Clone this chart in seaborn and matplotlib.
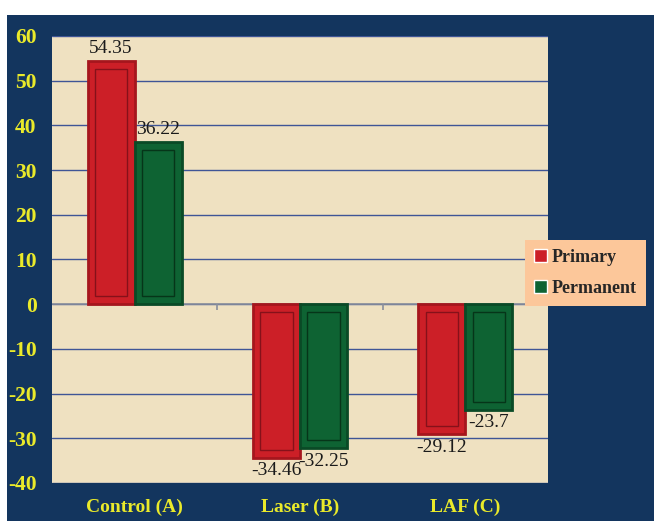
import pandas as pd
import numpy as np
import seaborn as sns
import matplotlib.pyplot as plt
from matplotlib.patches import Rectangle

groups = ['Control (A)', 'Laser (B)', 'LAF (C)']
primary = [54.35, -34.46, -29.12]
permanent = [36.22, -32.25, -23.7]
series = ['Primary', 'Permanent']
yticks = [-40, -30, -20, -10, 0, 10, 20, 30, 40, 50, 60]

navy = '#13355e'
yellow = '#eaea2a'
bar_colors = ['#cc1f27', '#0e6333']
edge_colors = ['#a5161d', '#0a4a26']
inner_colors = ['#86111a', '#063519']

df = pd.DataFrame({
    'group': groups * 2,
    'value': primary + permanent,
    'series': [series[0]] * 3 + [series[1]] * 3,
})

sns.set_style('white')
plt.rcParams['font.family'] = ['Liberation Serif', 'DejaVu Serif']
plt.rcParams['axes.unicode_minus'] = False

fig = plt.figure(figsize=(6.54, 5.21), dpi=100, facecolor='white')
fig.patches.append(Rectangle((7 / 654, 0), 1, (521 - 15) / 521,
                             transform=fig.transFigure, facecolor=navy,
                             edgecolor='none', zorder=-1))
ax = fig.add_axes([52 / 654, 38 / 521, 496 / 654, 447 / 521])
ax.set_facecolor('#efe1c1')

sns.barplot(data=df, x='group', y='value', hue='series', palette=bar_colors,
            width=0.57, ax=ax, zorder=3, saturation=1)

ax.set_ylim(-40, 60)
ax.set_xlim(-0.5, 2.5)

# bevel look: an inset panel inside every bar
dx, dy = 0.045, 1.8
for i, cont in enumerate(ax.containers):
    for bar in cont:
        bar.set_edgecolor(edge_colors[i])
        bar.set_linewidth(2)
        x0, w = bar.get_x(), bar.get_width()
        y0, h = bar.get_y(), bar.get_height()
        lo, hi = min(y0, y0 + h), max(y0, y0 + h)
        ax.add_patch(Rectangle((x0 + dx, lo + dy), w - 2 * dx, hi - lo - 2 * dy,
                               facecolor='none', edgecolor=inner_colors[i],
                               linewidth=1.0, zorder=4))
    vals = primary if i == 0 else permanent
    ax.bar_label(cont, labels=[str(v) for v in vals], padding=3,
                 fontsize=14, color='#1a1a1a', zorder=5)

ax.set_yticks(yticks)
ax.yaxis.grid(True, color='#3f5596', linewidth=1, zorder=1)
ax.axhline(0, color='#8a8f9c', linewidth=1.2, zorder=2)
ax.vlines(np.arange(len(groups) - 1) + 0.5, -1.3, 0, color='#8a8f9c',
          linewidth=1.2, zorder=2)
ax.set_axisbelow(True)

for s in ax.spines.values():
    s.set_visible(False)

ax.tick_params(axis='y', length=5, color='#8a8f9c', width=1.2,
               labelcolor=yellow, labelsize=15.5, pad=6)
ax.tick_params(axis='x', length=0, labelcolor=yellow, labelsize=14, pad=11)
for lab in ax.get_yticklabels() + ax.get_xticklabels():
    lab.set_fontweight('bold')
ax.set_xlabel('')
ax.set_ylabel('')

leg = ax.legend(loc='upper left', bbox_to_anchor=(525 / 654, 1 - 240 / 521),
                bbox_transform=fig.transFigure, frameon=True, fancybox=False,
                handlelength=0.7, handleheight=0.7, handletextpad=0.3,
                borderpad=0.5, borderaxespad=0, labelspacing=0.75,
                prop={'weight': 'bold', 'size': 13})
leg.get_frame().set_facecolor('#fcc79a')
leg.get_frame().set_edgecolor('none')
leg.get_frame().set_alpha(1)
leg.set_zorder(10)

fig.savefig('out.png', dpi=100, facecolor=fig.get_facecolor())
